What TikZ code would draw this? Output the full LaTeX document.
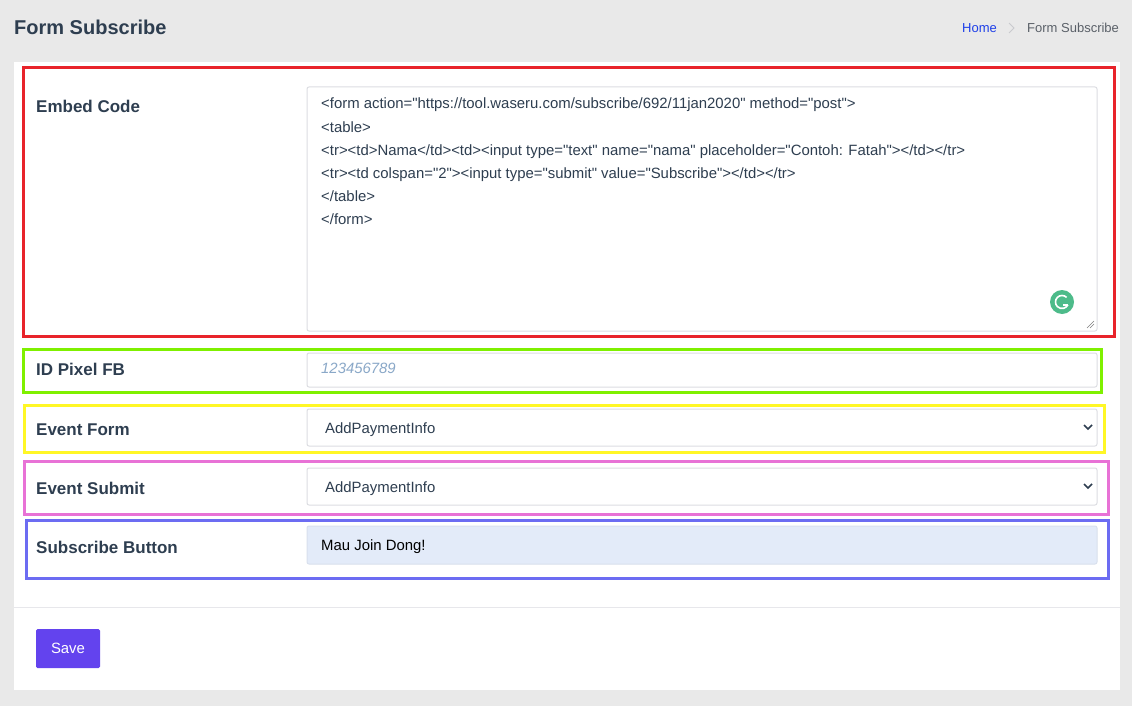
\documentclass[tikz,border=0pt]{standalone}
\usepackage{fontspec}
\defaultfontfeatures[\rmfamily]{}
\setmainfont{Liberation Sans}
\definecolor{bg}{HTML}{E9E9E9}
\definecolor{dark}{HTML}{2E3E50}
\definecolor{fieldb}{HTML}{DCDDE2}
\definecolor{redb}{HTML}{E8232A}
\definecolor{greenb}{HTML}{7FF000}
\definecolor{yellowb}{HTML}{FFF726}
\definecolor{pinkb}{HTML}{E872D6}
\definecolor{blueb}{HTML}{6C6CF2}
\definecolor{gram}{HTML}{4DBB8A}
\definecolor{btn}{HTML}{6343EE}
\definecolor{ph}{HTML}{8AA8C8}
\definecolor{home}{HTML}{1E3FE8}
\definecolor{crumb}{HTML}{5A6068}
\definecolor{inbg}{HTML}{E3EBF9}
\tikzset{
 lab/.style={anchor=base west,font=\fontsize{17}{19}\selectfont\bfseries,text=dark,inner sep=0},
 code/.style={anchor=base west,font=\fontsize{14.9}{17}\selectfont,text=dark,inner sep=0},
 field/.style={draw=fieldb,line width=1,fill=white,rounded corners=2},
 frame/.style={line width=3},
 chev/.style={draw=dark,line width=1.6}
}
\begin{document}
\begin{tikzpicture}[x=1pt,y=-1pt]
\fill[bg] (0,0) rectangle (1132,706);
\useasboundingbox (0,0) rectangle (1132,706);
\node[anchor=base west,font=\fontsize{20}{22}\selectfont\bfseries,text=dark,inner sep=0] (title) at (14,35) {Form Subscribe};
\node[anchor=base west,font=\fontsize{13}{15}\selectfont,text=home,inner sep=0] (home) at (962,33) {Home};
\draw[fieldb!80!gray,line width=0.8] (1009,23) -- (1014,28) -- (1009,33);
\node[anchor=base west,font=\fontsize{13}{15}\selectfont,text=crumb,inner sep=0] (crumb) at (1027,33) {Form Subscribe};
\fill[white] (14,62) rectangle (1120,690);
\draw[fieldb!70,line width=1] (14,607) -- (1120,607);
% embed
\draw[field] (307,87) rectangle (1097,331);
\draw[gray,line width=0.6] (1087,328) -- (1094,321) (1090,328) -- (1094,324);
\draw[frame,redb] (23,68) rectangle (1114,336);
\node[lab] (l1) at (36,113) {Embed Code};
\foreach \t [count=\i] in {{<form action="https://tool.waseru.com/subscribe/692/11jan2020" method="post">},{<table>},{<tr><td>Nama</td><td><input type="text" name="nama" placeholder="Contoh: Fatah"></td></tr>},{<tr><td colspan="2"><input type="submit" value="Subscribe"></td></tr>},{</table>},{</form>}}
  \node[code] (c\i) at (321,86+23*\i) {\t};
\fill[gram] (1062,302) circle (12);
\draw[white,line width=1.6] (1066.6,297.4) arc[start angle=-45,end angle=-335,radius=6.5];
\draw[white,line width=1.6] (1063,304.7) -- (1068,304.7);
% pixel
\draw[field] (307,353) rectangle (1097,387);
\draw[frame,greenb] (23,349) rectangle (1101,392);
\node[lab] (l2) at (36,375) {ID Pixel FB};
\node[code,text=ph,font=\fontsize{14.9}{17}\selectfont\itshape] (p) at (321,373) {123456789};
% event form
\draw[field] (307,409) rectangle (1097,446);
\draw[frame,yellowb] (24,405) rectangle (1104,452);
\node[lab] (l3) at (36,435) {Event Form};
\node[code] (s1) at (325,433) {AddPaymentInfo};
\draw[chev] (1084,425) -- (1088,429) -- (1092,425);
% event submit
\draw[field] (307,468) rectangle (1097,505);
\draw[frame,pinkb] (24,461) rectangle (1108,514);
\node[lab] (l4) at (36,494) {Event Submit};
\node[code] (s2) at (325,492) {AddPaymentInfo};
\draw[chev] (1084,484) -- (1088,488) -- (1092,484);
% subscribe button
\draw[field,fill=inbg,draw=inbg!90!gray] (307,526) rectangle (1097,564);
\draw[frame,blueb] (26,520) rectangle (1108,578);
\node[lab] (l5) at (36,553) {Subscribe Button};
\node[code,text=black] (mj) at (321,550) {Mau Join Dong!};
% save
\node[fill=btn,text=white,font=\fontsize{14.9}{17}\selectfont,minimum width=64,minimum height=39,rounded corners=1.5,inner sep=0] (save) at (68,648.5) {Save};
\end{tikzpicture}
\end{document}
